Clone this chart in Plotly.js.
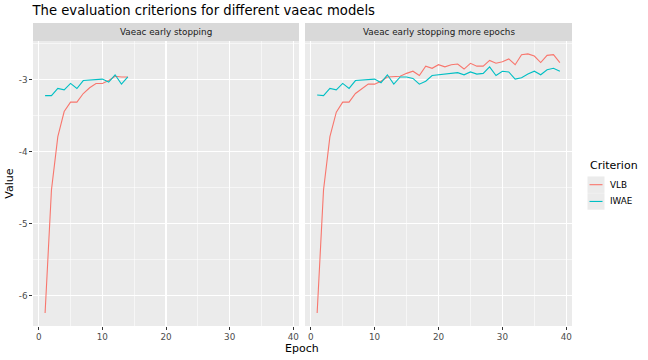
<!DOCTYPE html>
<html>
<head>
<meta charset="utf-8">
<script src="https://cdn.plot.ly/plotly-3.0.1.min.js"></script>
<style>html,body{margin:0;padding:0;background:#fff;}#chart{width:648px;height:360px;}</style>
</head>
<body>
<div id="chart"></div>
<script>
// ---- data ----
const panelTitles = ["Vaeac early stopping", "Vaeac early stopping more epochs"];
const seriesNames = ["VLB", "IWAE"];
const seriesColors = ["#F8766D", "#00BFC4"];

const epochsEarly = [1,2,3,4,5,6,7,8,9,10,11,12,13,14];
const vlbEarly  = [-6.24,-4.53,-3.79,-3.44,-3.31,-3.31,-3.19,-3.11,-3.05,-3.05,-3.01,-2.95,-2.96,-2.96];
const iwaeEarly = [-3.22,-3.22,-3.12,-3.14,-3.05,-3.12,-3.01,-3.00,-3.00,-2.99,-3.03,-2.93,-3.06,-2.96];

const epochsMore = [1,2,3,4,5,6,7,8,9,10,11,12,13,14,15,16,17,18,19,20,
                    21,22,23,24,25,26,27,28,29,30,31,32,33,34,35,36,37,38,39];
const vlbMore  = [-6.24,-4.53,-3.79,-3.45,-3.31,-3.31,-3.19,-3.12,-3.06,-3.06,
                  -3.02,-2.96,-2.96,-2.95,-2.91,-2.88,-2.94,-2.81,-2.84,-2.79,
                  -2.82,-2.79,-2.78,-2.85,-2.77,-2.81,-2.81,-2.73,-2.77,-2.75,
                  -2.71,-2.79,-2.65,-2.64,-2.67,-2.76,-2.66,-2.65,-2.76];
const iwaeMore = [-3.21,-3.22,-3.12,-3.14,-3.05,-3.12,-3.01,-3.00,-3.00,-2.99,
                  -3.04,-2.93,-3.06,-2.96,-2.96,-2.98,-3.06,-3.02,-2.94,-2.93,
                  -2.93,-2.92,-2.90,-2.93,-2.89,-2.92,-2.91,-2.82,-2.94,-2.88,
                  -2.89,-2.99,-2.97,-2.92,-2.88,-2.93,-2.86,-2.84,-2.88];

const xTickVals = [0,10,20,30,40];
const yTickVals = [-6,-5,-4,-3];
const yTickText = ["-6","-5","-4","-3"];

// ---- layout geometry (px) ----
const W = 648, H = 360;
const L = 33, R = 572, T = 23, B = 326.5;
const panelTop = 41;
const gapL = 299, gapR = 305;
const pw = R - L, ph = B - T;
const px2x = p => (p - L) / pw;
const px2y = p => (B - p) / ph;
const yDomTop = px2y(panelTop);

// ranges with ggplot-like 5% expansion
const allX = epochsMore.concat(epochsEarly);
const allY = vlbEarly.concat(iwaeEarly, vlbMore, iwaeMore);
const xmin = Math.min(...allX), xmax = Math.max(...allX);
const ymin = Math.min(...allY), ymax = Math.max(...allY);
const xr = [xmin - 0.05*(xmax-xmin), xmax + 0.05*(xmax-xmin)];
const yr = [ymin - 0.05*(ymax-ymin), ymax + 0.05*(ymax-ymin)];

const font = "DejaVu Sans, Liberation Sans, sans-serif";

function tr(x, y, name, color, xa, ya) {
  return {x: x, y: y, type: "scatter", mode: "lines", name: name,
          line: {color: color, width: 1.1}, xaxis: xa, yaxis: ya,
          showlegend: false, hoverinfo: "x+y+name"};
}
const data = [
  tr(epochsEarly, vlbEarly, seriesNames[0], seriesColors[0], "x", "y"),
  tr(epochsEarly, iwaeEarly, seriesNames[1], seriesColors[1], "x", "y"),
  tr(epochsMore, vlbMore, seriesNames[0], seriesColors[0], "x2", "y2"),
  tr(epochsMore, iwaeMore, seriesNames[1], seriesColors[1], "x2", "y2")
];

function xax(dom, anchor) {
  return {domain: dom, anchor: anchor, range: xr, tickvals: xTickVals,
          ticks: "outside", ticklen: 2.75, tickwidth: 1, tickcolor: "#333333",
          tickfont: {family: font, size: 8.8, color: "#4d4d4d"},
          showgrid: true, gridcolor: "#ffffff", gridwidth: 1.1,
          minor: {dtick: 5, tick0: 0, showgrid: true, gridcolor: "#ffffff", gridwidth: 0.55, ticks: ""},
          zeroline: false, showline: false, fixedrange: true};
}
function yax(anchor, showLabels) {
  return {domain: [0, yDomTop], anchor: anchor, range: yr,
          tickvals: yTickVals, ticktext: yTickText,
          ticks: showLabels ? "outside" : "", ticklen: 2.75, tickwidth: 1, tickcolor: "#333333",
          showticklabels: showLabels,
          tickfont: {family: font, size: 8.8, color: "#4d4d4d"},
          showgrid: true, gridcolor: "#ffffff", gridwidth: 1.1,
          minor: {dtick: 0.5, tick0: 0, showgrid: true, gridcolor: "#ffffff", gridwidth: 0.55, ticks: ""},
          zeroline: false, showline: false, fixedrange: true};
}

const shapes = [];
const annotations = [];
[["x","y"],["x2","y2"]].forEach((a, i) => {
  shapes.push({type: "rect", xref: a[0] + " domain", yref: a[1] + " domain",
               x0: 0, x1: 1, y0: 0, y1: 1, fillcolor: "#ebebeb", line: {width: 0}, layer: "below"});
  shapes.push({type: "rect", xref: a[0] + " domain", yref: "paper",
               x0: 0, x1: 1, y0: yDomTop, y1: 1, fillcolor: "#d9d9d9", line: {width: 0}, layer: "below"});
  annotations.push({text: panelTitles[i], xref: a[0] + " domain", yref: "paper",
                    x: 0.5, y: (yDomTop + 1) / 2, xanchor: "center", yanchor: "middle",
                    showarrow: false, font: {family: font, size: 8.8, color: "#1a1a1a"}});
});

// axis titles
annotations.push({text: "Epoch", xref: "paper", yref: "paper", x: px2x(302), y: px2y(349.5),
                  xanchor: "center", yanchor: "middle", showarrow: false,
                  font: {family: font, size: 11, color: "#000000"}});
annotations.push({text: "Value", xref: "paper", yref: "paper", x: px2x(10), y: px2y(184),
                  xanchor: "center", yanchor: "middle", textangle: -90, showarrow: false,
                  font: {family: font, size: 11, color: "#000000"}});

// legend (ggplot style)
annotations.push({text: "Criterion", xref: "paper", yref: "paper", x: px2x(587.5), y: px2y(165.5),
                  xanchor: "left", yanchor: "middle", showarrow: false,
                  font: {family: font, size: 11, color: "#000000"}});
const keyTop = [176.7, 193.5];
seriesNames.forEach((n, i) => {
  const y0 = keyTop[i], y1 = y0 + 16.5, yc = (y0 + y1) / 2;
  shapes.push({type: "rect", xref: "paper", yref: "paper", x0: px2x(587.5), x1: px2x(604.5),
               y0: px2y(y1), y1: px2y(y0), fillcolor: "#ebebeb", line: {width: 0}});
  shapes.push({type: "line", xref: "paper", yref: "paper", x0: px2x(589.5), x1: px2x(602.5),
               y0: px2y(yc), y1: px2y(yc), line: {color: seriesColors[i], width: 1.1}});
  annotations.push({text: n, xref: "paper", yref: "paper", x: px2x(608), y: px2y(yc),
                    xanchor: "left", yanchor: "middle", showarrow: false,
                    font: {family: font, size: 8.8, color: "#000000"}});
});

const layout = {
  width: W, height: H,
  margin: {l: L, r: W - R, t: T, b: H - B, pad: 0},
  paper_bgcolor: "#ffffff", plot_bgcolor: "#ffffff",
  font: {family: font},
  title: {text: "The evaluation criterions for different vaeac models",
          x: 32.5 / W, xanchor: "left", xref: "container",
          y: 1 - 10.5 / H, yanchor: "middle", yref: "container",
          font: {family: font, size: 13.2, color: "#000000"}},
  xaxis: xax([0, px2x(gapL)], "y"),
  yaxis: yax("x", true),
  xaxis2: xax([px2x(gapR), 1], "y2"),
  yaxis2: yax("x2", false),
  shapes: shapes,
  annotations: annotations,
  showlegend: false
};

Plotly.newPlot("chart", data, layout, {displayModeBar: false, staticPlot: true});
</script>
</body>
</html>
